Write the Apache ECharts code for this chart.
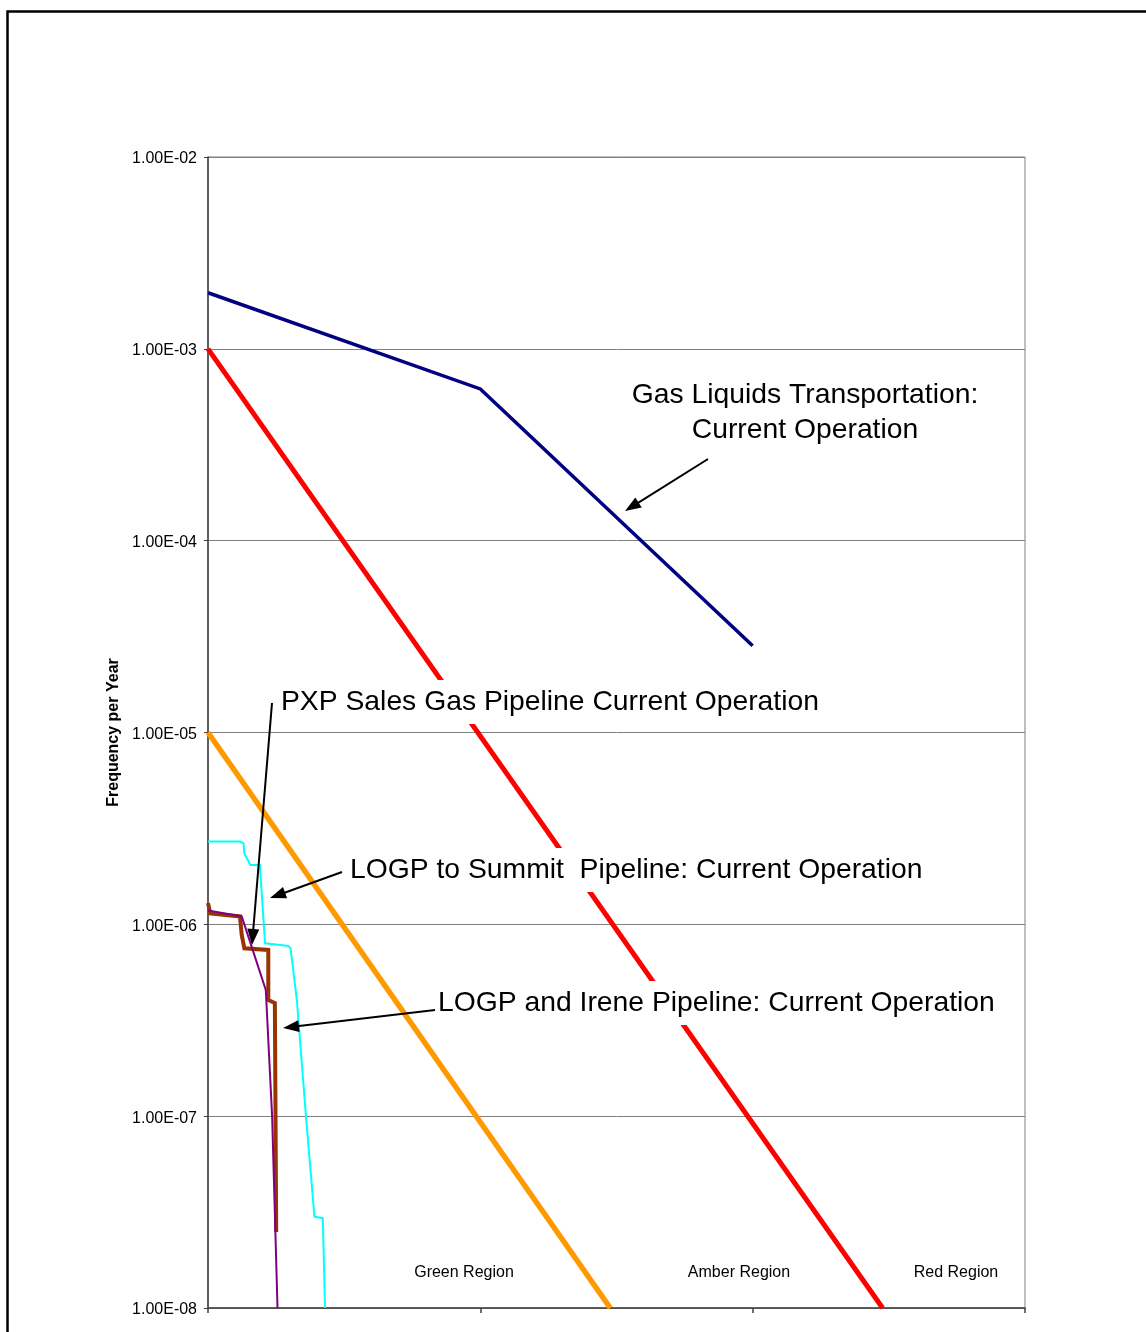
<!DOCTYPE html>
<html>
<head>
<meta charset="utf-8">
<script src="https://cdn.jsdelivr.net/npm/echarts@6/dist/echarts.min.js"></script>
<style>
html,body{margin:0;padding:0;background:#fff;}
#chart{width:1146px;height:1332px;}
</style>
</head>
<body>
<div id="chart"></div>
<script>
// ---- Data (x = number of fatalities N on a log axis, y = frequency per year) ----
const gasLiquidsN = [1, 10, 100];
const gasLiquidsF = [1.96e-3, 6.18e-4, 2.83e-5];

const redCriterionN = [1, 300];
const redCriterionF = [1e-3, 1e-8];

const amberCriterionN = [1, 30];
const amberCriterionF = [1e-5, 1e-8];

const pxpN = [1, 1.31, 1.35, 1.36, 1.43, 1.51, 1.53, 1.55, 1.62, 1.84, 1.97, 2.01, 2.12, 2.29, 2.46, 2.64, 2.69];
const pxpF = [2.70e-6, 2.70e-6, 2.64e-6, 2.34e-6, 2.04e-6, 2.04e-6, 2.08e-6, 2.04e-6, 7.96e-7, 7.80e-7, 7.71e-7, 7.50e-7, 4.03e-7, 9.94e-8, 2.99e-8, 2.94e-8, 1.0e-8];

const logpIreneN = [1, 1.02, 1.31, 1.33, 1.33, 1.36, 1.665, 1.665, 1.76, 1.78];
const logpIreneF = [1.29e-6, 1.14e-6, 1.10e-6, 1.09e-6, 8.80e-7, 7.50e-7, 7.35e-7, 4.03e-7, 3.89e-7, 2.49e-8];

const logpSummitN = [1, 1.33, 1.63, 1.72, 1.80];
const logpSummitF = [1.18e-6, 1.10e-6, 4.55e-7, 9.94e-8, 1.0e-8];

const yTickLabels = ['1.00E-08','1.00E-07','1.00E-06','1.00E-05','1.00E-04','1.00E-03','1.00E-02'];
const yAxisTitle = 'Frequency per Year';

const annotationTexts = [
  'Gas Liquids Transportation:',
  'Current Operation',
  'PXP Sales Gas Pipeline Current Operation',
  'LOGP to Summit  Pipeline: Current Operation',
  'LOGP and Irene Pipeline: Current Operation'
];
const regionLabels = ['Green Region', 'Amber Region', 'Red Region'];

// ---- Build ----
const zip = (xs, ys) => xs.map((x, i) => [x, ys[i]]);
const FONT = '"Liberation Sans", Arial, Helvetica, sans-serif';

function lineSeries(name, xs, ys, color, width) {
  return {
    name, type: 'line', data: zip(xs, ys), showSymbol: false, symbol: 'none',
    lineStyle: { color, width, cap: 'butt', join: 'miter' }, animation: false
  };
}

const chart = echarts.init(document.getElementById('chart'), null, { renderer: 'canvas' });

// Annotation layout (pixels)
const texts = [
  { t: annotationTexts[0], x: 805, y: 395, align: 'center', size: 28.3 },
  { t: annotationTexts[1], x: 805, y: 430, align: 'center', size: 28.3 },
  { t: annotationTexts[2], x: 277, y: 702, align: 'left', size: 28.3 },
  { t: annotationTexts[3], x: 346, y: 870, align: 'left', size: 28.3 },
  { t: annotationTexts[4], x: 434, y: 1003, align: 'left', size: 28.3 }
];
const regions = [
  { t: regionLabels[0], x: 464, y: 1273 },
  { t: regionLabels[1], x: 739, y: 1273 },
  { t: regionLabels[2], x: 956, y: 1273 }
];
const arrows = [
  [708, 459, 625, 511],
  [272, 703, 252, 945],
  [342, 872, 270, 898],
  [435, 1010, 283, 1028]
];

const graphics = [];
graphics.push({
  type: 'rect', z: 200, silent: true,
  shape: { x: 7.5, y: 11.5, width: 1400, height: 1500 },
  style: { fill: 'none', stroke: '#000', lineWidth: 2.5 }
});
texts.forEach(o => {
  graphics.push({
    type: 'text', z: 150, silent: true,
    style: {
      text: o.t, x: o.x, y: o.y, align: o.align, verticalAlign: 'middle',
      font: o.size + 'px ' + FONT, fill: '#000',
      backgroundColor: '#fff', padding: [8, 4]
    }
  });
});
regions.forEach(o => {
  graphics.push({
    type: 'text', z: 150, silent: true,
    style: {
      text: o.t, x: o.x, y: o.y, align: 'center', verticalAlign: 'middle',
      font: '16px ' + FONT, fill: '#000'
    }
  });
});
arrows.forEach(a => {
  const [x1, y1, x2, y2] = a;
  const dx = x2 - x1, dy = y2 - y1, len = Math.hypot(dx, dy);
  const ux = dx / len, uy = dy / len, nx = -uy, ny = ux;
  const L = 16, W = 6;
  const bx = x2 - ux * L, by = y2 - uy * L;
  graphics.push({
    type: 'line', z: 160, silent: true,
    shape: { x1, y1, x2: bx + ux * 2, y2: by + uy * 2 },
    style: { stroke: '#000', lineWidth: 2 }
  });
  graphics.push({
    type: 'polygon', z: 160, silent: true,
    shape: { points: [[x2, y2], [bx + nx * W, by + ny * W], [bx - nx * W, by - ny * W]] },
    style: { fill: '#000' }
  });
});

const option = {
  animation: false,
  backgroundColor: '#fff',
  textStyle: { fontFamily: FONT },
  grid: {
    left: 208, top: 157, right: 121, bottom: 24,
    show: true, borderColor: '#808080', borderWidth: 1, backgroundColor: 'transparent'
  },
  xAxis: {
    type: 'log', logBase: 10, min: 1, max: 1000,
    axisLine: { show: true, lineStyle: { color: '#404040', width: 1.5 } },
    axisTick: { show: true, length: 5, lineStyle: { color: '#404040', width: 1.5 } },
    axisLabel: { show: false },
    splitLine: { show: false },
    minorTick: { show: false }
  },
  yAxis: {
    type: 'log', logBase: 10, min: 1e-8, max: 1e-2,
    name: yAxisTitle, nameLocation: 'middle', nameRotate: 90, nameGap: 85,
    nameTextStyle: { fontFamily: FONT, fontWeight: 'bold', fontSize: 16, color: '#000' },
    axisLine: { show: true, lineStyle: { color: '#404040', width: 1.5 } },
    axisTick: { show: true, length: 4, lineStyle: { color: '#404040' } },
    axisLabel: {
      show: true, margin: 11, color: '#000', fontSize: 16, fontFamily: FONT,
      formatter: v => '{a|' + (yTickLabels[Math.round(Math.log10(v)) + 8] || '') + '}',
      rich: { a: { fontSize: 16, fontFamily: FONT, color: '#000', padding: [4, 0, 0, 0] } }
    },
    splitLine: { show: true, lineStyle: { color: '#808080', width: 1 } },
    minorTick: { show: false }
  },
  series: [
    lineSeries('Gas Liquids Transportation: Current Operation', gasLiquidsN, gasLiquidsF, '#000080', 3.5),
    lineSeries('Red criterion', redCriterionN, redCriterionF, '#FF0000', 5),
    lineSeries('Amber criterion', amberCriterionN, amberCriterionF, '#FF9900', 5.5),
    lineSeries('PXP Sales Gas Pipeline Current Operation', pxpN, pxpF, '#00FFFF', 2),
    lineSeries('LOGP and Irene Pipeline: Current Operation', logpIreneN, logpIreneF, '#993300', 4),
    lineSeries('LOGP to Summit Pipeline: Current Operation', logpSummitN, logpSummitF, '#800080', 2)
  ],
  graphic: { elements: graphics }
};
chart.setOption(option);
</script>
</body>
</html>
